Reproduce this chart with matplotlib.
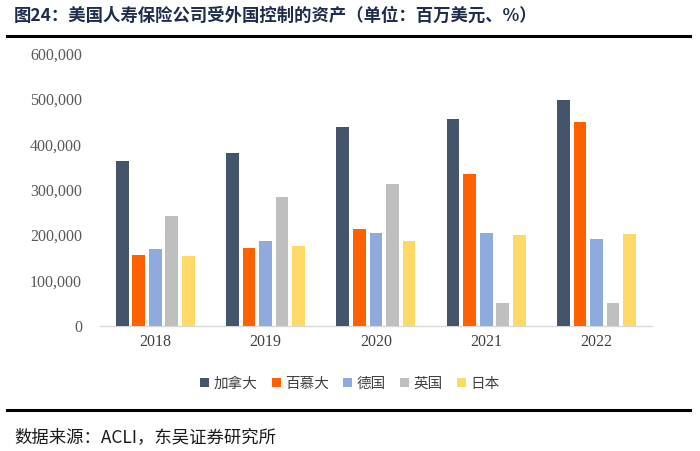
import matplotlib
matplotlib.use("Agg")
import matplotlib.pyplot as plt
import numpy as np
from matplotlib.lines import Line2D
from matplotlib.patches import Patch

plt.rcParams['font.family'] = ['Noto Sans CJK SC', 'DejaVu Sans']

years = ['2018', '2019', '2020', '2021', '2022']
series_names = ['加拿大', '百慕大', '德国', '英国', '日本']
canada = [363000, 380000, 437000, 456000, 497000]
bermuda = [156000, 171000, 214000, 335000, 449000]
germany = [170000, 187000, 204000, 205000, 192000]
uk = [242000, 283000, 313000, 51000, 51000]
japan = [154000, 177000, 187000, 200000, 203000]
colors = ['#44546A', '#FF6000', '#8FAADC', '#BFBFBF', '#FFD966']
yticks = [0, 100000, 200000, 300000, 400000, 500000, 600000]

fig = plt.figure(figsize=(7.0, 4.51), dpi=100)
ax = fig.add_axes([0.143, 0.277, 0.788, 0.605])

x = np.arange(len(years))
step = 0.15
width = 0.115
data = [canada, bermuda, germany, uk, japan]
for i, (vals, c) in enumerate(zip(data, colors)):
    ax.bar(x + (i - 2) * step, vals, width=width, color=c, zorder=3)

ax.set_xlim(-0.5, 4.5)
ax.set_ylim(0, 600000)
ax.set_yticks(yticks)
ax.set_yticklabels([f'{v:,}' for v in yticks], fontfamily='Liberation Serif', fontsize=11.5, color='#595959')
ax.set_xticks(x)
ax.set_xticklabels(years, fontfamily='Liberation Serif', fontsize=11.5, color='#404040')
for s in ['top', 'right', 'left']:
    ax.spines[s].set_visible(False)
ax.spines['bottom'].set_color('#D9D9D9')
ax.spines['bottom'].set_linewidth(1.0)
ax.tick_params(axis='both', length=0)
ax.tick_params(axis='y', pad=13)
ax.tick_params(axis='x', pad=6)

handles = [Patch(facecolor=c, edgecolor='none') for c in colors]
fig.legend(handles, series_names, loc='center', bbox_to_anchor=(0.5, 1 - 384 / 451),
           ncol=5, frameon=False, fontsize=10.5, handlelength=0.6, handleheight=0.6,
           handletextpad=0.3, columnspacing=1.0, labelcolor='#404040')

fig.text(14 / 700, 1 - 16 / 451, '图24：美国人寿保险公司受外国控制的资产（单位：百万美元、%）',
         fontsize=12.5, fontweight='bold', color='#1F2D4D', va='center', ha='left')
fig.add_artist(Line2D([7 / 700, 690 / 700], [1 - 36 / 451] * 2, color='black', lw=2.2))
fig.add_artist(Line2D([7 / 700, 690 / 700], [1 - 410 / 451] * 2, color='black', lw=2.2))
fig.text(14 / 700, 1 - 437 / 451, '数据来源：ACLI，东吴证券研究所', fontsize=12.5, color='#1a1a1a',
         va='center', ha='left')

fig.savefig('out.png', dpi=100)
